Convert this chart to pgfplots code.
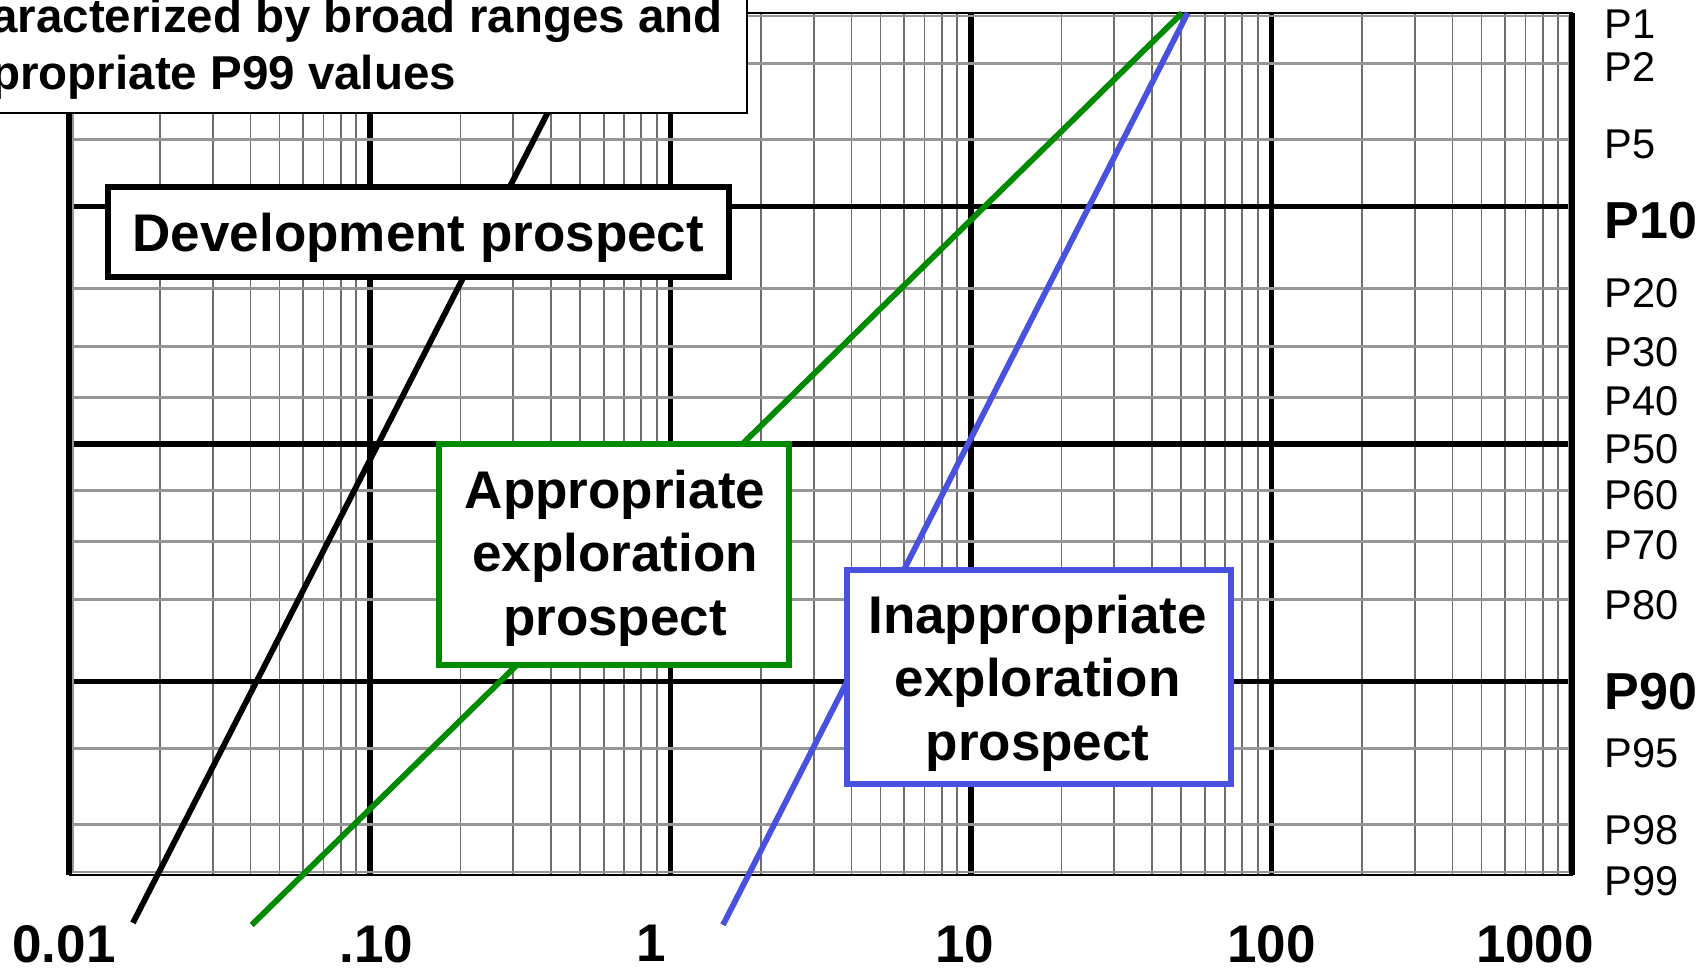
\documentclass[border=0pt]{standalone}
\usepackage{pgfplots}
\pgfplotsset{compat=1.18}
\usepackage{fontspec}
\setmainfont{Liberation Sans}
\definecolor{pgreen}{RGB}{0,138,0}
\definecolor{pblue}{RGB}{72,82,222}
\definecolor{ggray}{RGB}{150,150,150}
\definecolor{mgray}{RGB}{110,110,110}
\newcommand{\boxfont}{\fontsize{26.5}{31.75}\selectfont\bfseries}
\begin{document}
\begin{tikzpicture}
\begin{axis}[
  at={(34.75pt,47.5pt)}, anchor=south west,
  scale only axis, width=751.25pt, height=431pt,
  xmode=log, xmin=0.01, xmax=1000,
  ymin=-2.3263, ymax=2.3263,
  clip=false,
  axis line style={draw=none},
  major tick length=0pt, minor tick length=0pt,
  xtick={0.1,1,10,100}, xticklabels={,,,,},
  minor xtick={0.02,0.03,0.04,0.05,0.06,0.07,0.08,0.09,
               0.2,0.3,0.4,0.5,0.6,0.7,0.8,0.9,
               2,3,4,5,6,7,8,9,
               20,30,40,50,60,70,80,90,
               200,300,400,500,600,700,800,900},
  ytick={-1.2816,0,1.2816}, yticklabels={,,,},
  minor ytick={-2.0537,-1.6449,-0.8416,-0.5244,-0.2533,0.2533,0.5244,0.8416,1.6449,2.0537},
  grid=both,
  major x grid style={black, line width=2.9pt},
  major y grid style={black, line width=2.9pt},
  minor x grid style={mgray, line width=0.9pt},
  minor y grid style={ggray, line width=1.5pt},
  extra x ticks={0.01,0.1048,0.861,9.55,100,753},
  extra x tick labels={\textbf{0.01}\hspace*{5.4pt},\textbf{.10},\textbf{1},\textbf{10},\textbf{100},\textbf{1000}},
  extra x tick style={grid=none, major tick length=0pt,
     xticklabel style={font=\fontsize{26.5}{26.5}\selectfont\bfseries, anchor=north, inner sep=0pt, yshift=-25pt}},
  yticklabel pos=right,
  extra y ticks={2.2671,2.0335,1.6179,1.2083,0.8165,0.4943,0.2315,-0.0264,-0.2779,-0.5472,-0.8688,-1.3368,-1.6703,-2.0858,-2.3262},
  extra y tick labels={P1,P2,P5,{\fontsize{26}{26}\selectfont\bfseries P10},P20,P30,P40,P50,P60,P70,P80,{\fontsize{26}{26}\selectfont\bfseries P90},P95,P98,{\rule{0pt}{21.2pt}P99}},
  extra y tick style={grid=none, major tick length=0pt,
     yticklabel style={font=\fontsize{20.8}{20.8}\selectfont, anchor=west, inner sep=0pt, xshift=16.25pt}},
]
% frame
\draw[ggray, line width=1pt] ([shift={(1.6pt,1.6pt)}]rel axis cs:0,0) rectangle ([shift={(-1.6pt,-1.6pt)}]rel axis cs:1,1);
\draw[black, line width=0.8pt] (rel axis cs:0,0) rectangle (rel axis cs:1,1);
\draw[black, line width=3pt] (rel axis cs:0,0) -- (rel axis cs:0,1);
\draw[black, line width=3pt] (rel axis cs:1,0) -- (rel axis cs:1,1);
% prospect lines (lognormal: straight on log-probability paper)
\addplot[black, line width=2.9pt] coordinates {(0.01626,-2.585) (0.577,2.3263)};
\addplot[pgreen, line width=2.9pt] coordinates {(0.0404,-2.596) (50.4,2.3263)};
\addplot[pblue, line width=2.9pt] coordinates {(1.495,-2.596) (52.6,2.3263)};
\end{axis}
% top-left (cut) text box
\draw[black, line width=1pt, fill=white] (-20pt,428.5pt) rectangle (373.25pt,500pt);
\node[anchor=base west, inner sep=0pt, font=\fontsize{23.75}{23.75}\selectfont\bfseries] at (-4.5pt,468.5pt) {aracterized by broad ranges and};
\node[anchor=base west, inner sep=0pt, font=\fontsize{23.75}{23.75}\selectfont\bfseries] at (-4.5pt,440pt) {propriate P99 values};
% Development prospect
\draw[black, line width=3pt, fill=white] (54.1pt,346.25pt) rectangle (364.25pt,391.25pt);
\node[anchor=base, inner sep=0pt, font=\boxfont] at (209.2pt,359.25pt) {Development prospect};
% Appropriate exploration prospect
\draw[pgreen, line width=3pt, fill=white] (219.6pt,152.4pt) rectangle (394.6pt,262.75pt);
\node[anchor=base, inner sep=0pt, font=\boxfont] at (307.5pt,231pt) {Appropriate};
\node[anchor=base, inner sep=0pt, font=\boxfont] at (307.5pt,199.15pt) {exploration};
\node[anchor=base, inner sep=0pt, font=\boxfont] at (307.5pt,167.5pt) {prospect};
% Inappropriate exploration prospect
\draw[pblue, line width=3pt, fill=white] (423.5pt,93.25pt) rectangle (615.65pt,200.25pt);
\node[anchor=base, inner sep=0pt, font=\boxfont] at (518.8pt,168.5pt) {Inappropriate};
\node[anchor=base, inner sep=0pt, font=\boxfont] at (518.8pt,136.75pt) {exploration};
\node[anchor=base, inner sep=0pt, font=\boxfont] at (518.8pt,105pt) {prospect};
\pgfresetboundingbox
\path[use as bounding box] (0,0) rectangle (850pt,485pt);
\end{tikzpicture}
\end{document}
